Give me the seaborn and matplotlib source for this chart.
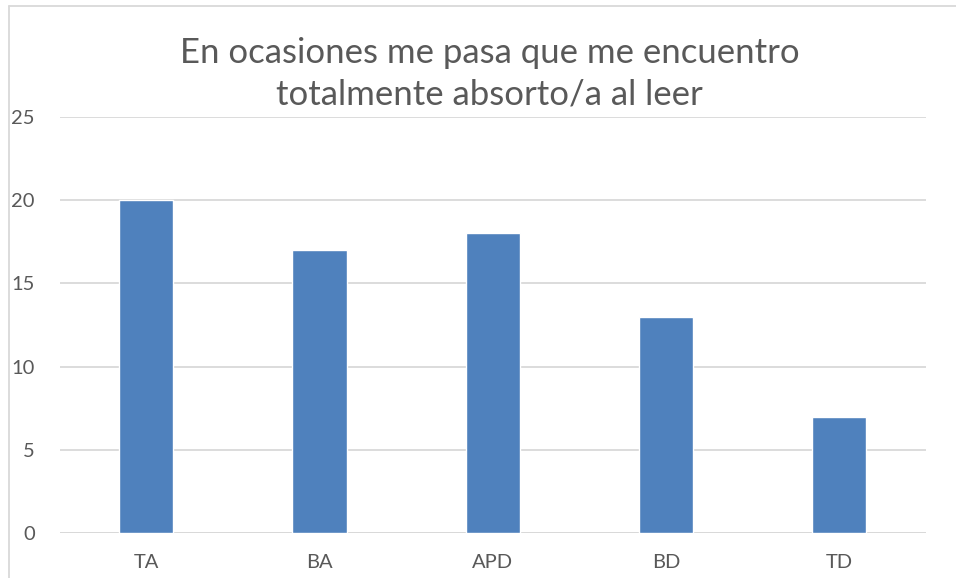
import seaborn as sns
import matplotlib.pyplot as plt
import pandas as pd
from matplotlib.lines import Line2D

# Data
categories = ["TA", "BA", "APD", "BD", "TD"]
counts = [20, 17, 18, 13, 7]
y_ticks = [0, 5, 10, 15, 20, 25]

df = pd.DataFrame({"Respuesta": categories, "Frecuencia": counts})

sns.set_style("white")
plt.rcParams["font.family"] = ["Lato", "DejaVu Sans"]

text_color = "#595959"
grid_color = "#D9D9D9"

fig = plt.figure(figsize=(9.56, 5.78), dpi=100)
ax = fig.add_axes([0.0625, 0.0773, 0.9058, 0.7206])

sns.barplot(data=df, x="Respuesta", y="Frecuencia", color="#4F81BD",
            saturation=1, width=0.313, ax=ax)

ax.set_ylim(0, 25)
ax.set_xlim(-0.5, len(categories) - 0.5)
ax.set_yticks(y_ticks)
ax.yaxis.grid(True, color=grid_color, linewidth=1.3)
ax.set_axisbelow(True)
for s in ax.spines.values():
    s.set_visible(False)
ax.axhline(0, color=grid_color, linewidth=1.3, zorder=0)

ax.set_xlabel("")
ax.set_ylabel("")
ax.tick_params(axis="both", length=0, labelsize=14.5, colors=text_color)
ax.tick_params(axis="y", pad=18)
ax.tick_params(axis="x", pad=15)

fig.suptitle("En ocasiones me pasa que me encuentro\ntotalmente absorto/a al leer",
             x=0.512, y=0.873, fontsize=25, color=text_color,
             linespacing=1.36, va="center")

# chart frame (top and left edge visible in the crop)
fig.add_artist(Line2D([0.0094, 0.0094], [0, 0.99], transform=fig.transFigure,
                      color=grid_color, linewidth=1.3))
fig.add_artist(Line2D([0.0094, 1.0], [0.99, 0.99], transform=fig.transFigure,
                      color=grid_color, linewidth=1.3))

plt.savefig("out.png", dpi=100)
plt.close()
